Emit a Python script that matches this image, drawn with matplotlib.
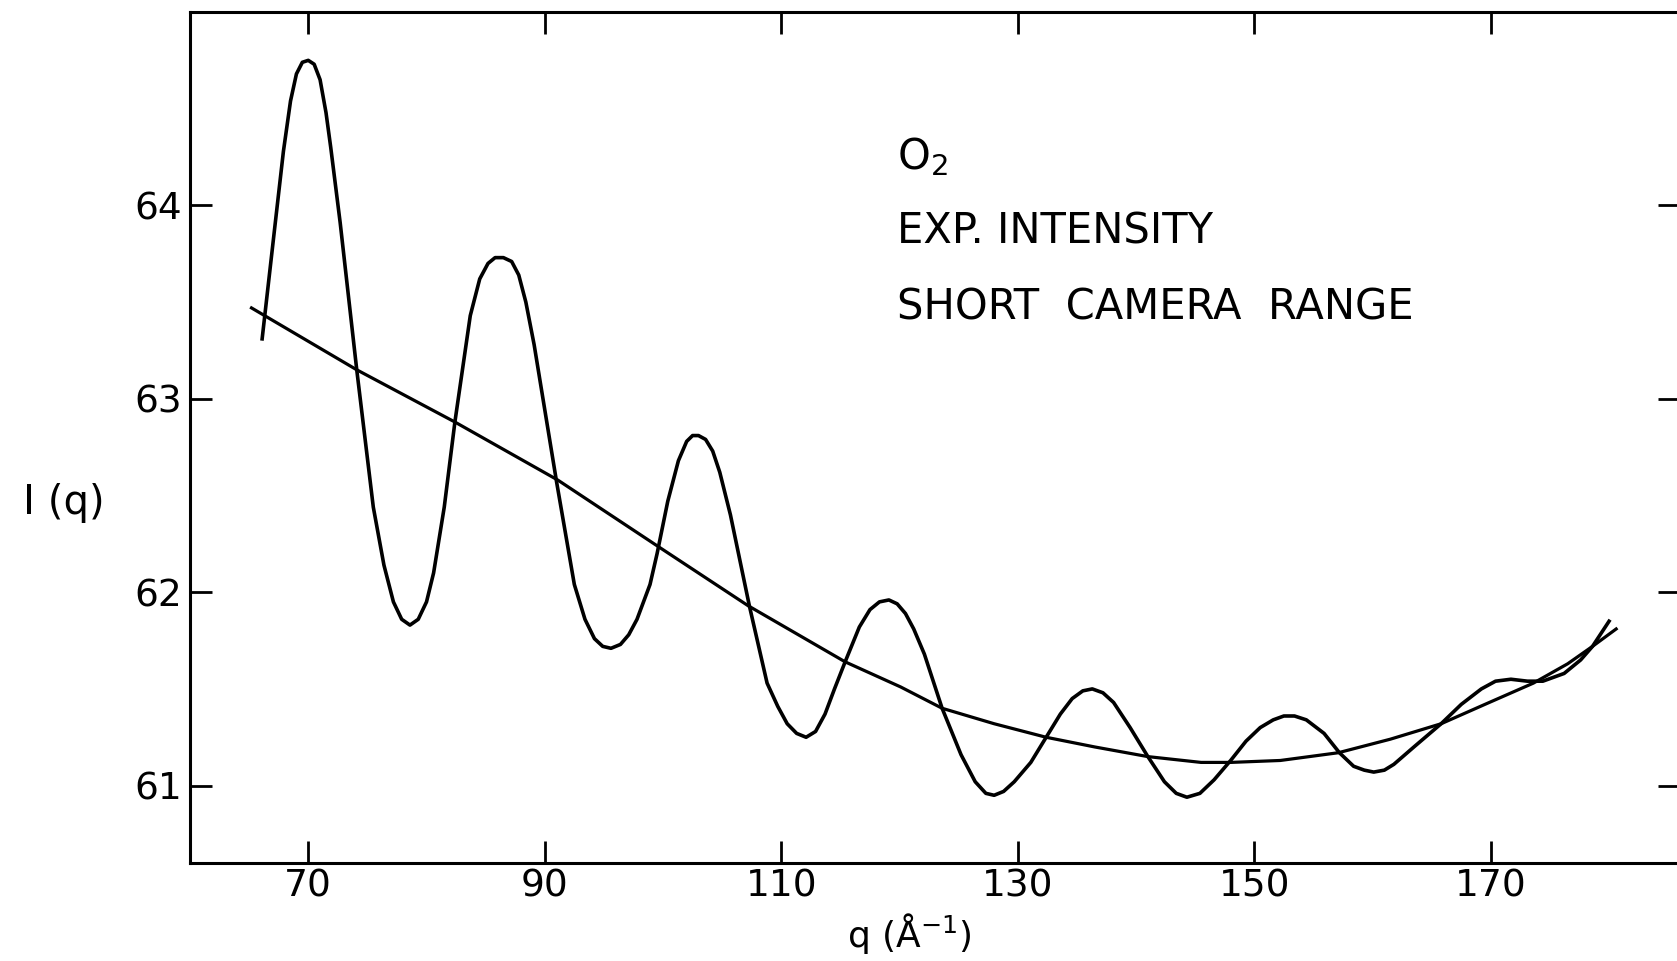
"""
O2 experimental intensity, short camera range
"""
import matplotlib

matplotlib.use("Agg")
import matplotlib.pyplot as plt  # noqa:E402

osc_q = [
    66.1, 66.6, 67.1, 67.9, 68.5, 69.0, 69.5, 70.0, 70.5, 71.0,
    71.5, 71.9, 72.7, 74.1, 75.5, 76.4, 77.2, 77.9, 78.6, 79.3,
    80.0, 80.6, 81.5, 82.4, 83.7, 84.5, 85.2, 85.8, 86.5, 87.2,
    87.8, 88.4, 89.1, 91.0, 92.5, 93.4, 94.2, 94.9, 95.6, 96.4,
    97.1, 97.8, 98.9, 99.5, 100.4, 101.3, 102.0, 102.5, 103.0, 103.6,
    104.2, 104.8, 105.7, 107.3, 108.8, 109.7, 110.5, 111.3, 112.1, 112.9,
    113.7, 114.5, 115.4, 116.6, 117.5, 118.3, 119.1, 119.8, 120.5, 121.2,
    122.1, 123.6, 125.2, 126.4, 127.3, 128.0, 128.8, 129.7, 131.1, 132.4,
    133.6, 134.6, 135.5, 136.3, 137.2, 138.1, 139.5, 141.0, 142.4, 143.4,
    144.3, 145.4, 146.6, 148.0, 149.3, 150.5, 151.6, 152.5, 153.4, 154.4,
    155.9, 157.2, 158.4, 159.3, 160.1, 161.0, 161.8, 163.5, 165.8, 167.5,
    169.2, 170.4, 171.7, 173.1, 174.4, 176.2, 177.6, 178.6, 180.0,
]
osc_i = [
    63.31, 63.58, 63.85, 64.28, 64.54, 64.68, 64.74, 64.75, 64.73, 64.65,
    64.48, 64.30, 63.91, 63.15, 62.44, 62.14, 61.95, 61.86, 61.83, 61.86,
    61.95, 62.10, 62.44, 62.88, 63.43, 63.62, 63.70, 63.73, 63.73, 63.71,
    63.64, 63.50, 63.28, 62.57, 62.04, 61.86, 61.76, 61.72, 61.71, 61.73,
    61.78, 61.86, 62.04, 62.20, 62.47, 62.68, 62.78, 62.81, 62.81, 62.79,
    62.73, 62.62, 62.40, 61.93, 61.53, 61.41, 61.32, 61.27, 61.25, 61.28,
    61.37, 61.50, 61.64, 61.82, 61.91, 61.95, 61.96, 61.94, 61.89, 61.81,
    61.68, 61.40, 61.16, 61.02, 60.96, 60.95, 60.97, 61.02, 61.12, 61.25,
    61.37, 61.45, 61.49, 61.50, 61.48, 61.43, 61.30, 61.15, 61.02, 60.96,
    60.94, 60.96, 61.03, 61.13, 61.23, 61.30, 61.34, 61.36, 61.36, 61.34,
    61.27, 61.17, 61.10, 61.08, 61.07, 61.08, 61.11, 61.20, 61.32, 61.42,
    61.50, 61.54, 61.55, 61.54, 61.54, 61.58, 61.65, 61.72, 61.85,
]

# smooth background curve
bg_q = [
    65.2, 74.1, 82.4, 91.1, 99.5, 107.2, 115.4, 120.1, 123.6, 128.0,
    132.4, 136.5, 141.0, 145.5, 148.0, 152.2, 157.1, 161.5, 165.8, 169.5,
    173.6, 176.5, 178.6, 180.6,
]
bg_i = [
    63.47, 63.15, 62.88, 62.58, 62.24, 61.93, 61.64, 61.51, 61.40, 61.32,
    61.25, 61.20, 61.15, 61.12, 61.12, 61.13, 61.17, 61.24, 61.32, 61.42,
    61.53, 61.63, 61.72, 61.81,
]

x_ticks = [70, 90, 110, 130, 150, 170]
y_ticks = [61, 62, 63, 64]
notes = ["O$_2$", "EXP. INTENSITY", "SHORT  CAMERA  RANGE"]


def main():
    plt.rcParams.update({"font.size": 26, "font.family": "DejaVu Sans"})

    fig = plt.figure(figsize=(16.77, 9.61), dpi=100)
    ax = fig.add_axes([0.1133, 0.102, 0.8885, 0.8855])

    ax.plot(osc_q, osc_i, c="k", lw=2.6, solid_joinstyle="round")
    ax.plot(bg_q, bg_i, c="k", lw=2.3, solid_joinstyle="round")

    ax.set_xlim(60, 186)
    ax.set_ylim(60.6, 65)
    ax.set_xticks(x_ticks)
    ax.set_yticks(y_ticks)
    ax.tick_params(direction="in", length=15.5, width=2.0,
                   top=True, right=True, labelsize=27)
    ax.tick_params(axis="x", pad=4)
    ax.tick_params(axis="y", pad=6)
    for sp in ax.spines.values():
        sp.set_linewidth(2.2)

    ax.set_xlabel("q (Å$^{-1}$)", fontsize=26, va="center")
    ax.xaxis.set_label_coords(0.483, -0.083)
    ax.set_ylabel("I (q)", rotation=0, fontsize=29, va="center", ha="center")
    ax.yaxis.set_label_coords(-0.085, 0.423)

    for txt, y in zip(notes, [64.19, 63.805, 63.41]):
        ax.text(119.75, y, txt, fontsize=30, va="baseline", ha="left")

    fig.savefig("out.png", dpi=100)
    plt.close(fig)


if __name__ == "__main__":
    main()
